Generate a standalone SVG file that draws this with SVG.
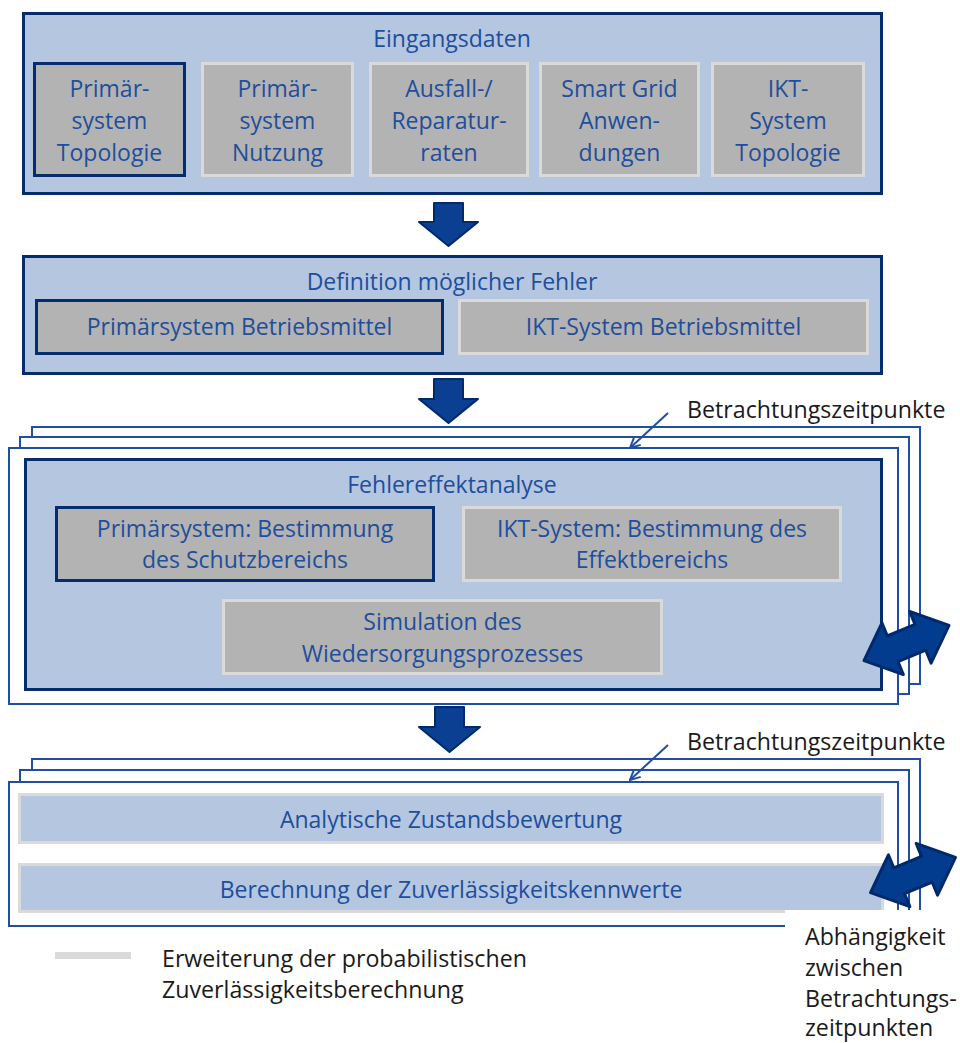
<svg xmlns="http://www.w3.org/2000/svg" width="960" height="1043" viewBox="0 0 960 1043">
<style>
.t{font-family:"Open Sans","Liberation Sans",sans-serif;font-size:23px;fill:#1e4e9c;text-anchor:middle}
.k{font-family:"Open Sans","Liberation Sans",sans-serif;font-size:23.2px;fill:#1a1a1a}
.panel{fill:#b4c6e0;stroke:#062c6b;stroke-width:3}
.g{fill:#b3b3b3;stroke:#dadada;stroke-width:3}
.gd{fill:#b3b3b3;stroke:#062c6b;stroke-width:3}
.bar{fill:#b4c6e0;stroke:#dadada;stroke-width:3}
.fr{fill:#fff;stroke:#1f4fa0;stroke-width:2}
.da{fill:#0a3f91;stroke:#002a6b;stroke-width:2;stroke-linejoin:round}
.dd{fill:#023c8f;stroke:#00296b;stroke-width:3;stroke-linejoin:round}
.pt{fill:none;stroke:#1f4fa0;stroke-width:2}
</style>
<defs>
<marker id="open" markerWidth="12" markerHeight="12" refX="11" refY="6" orient="auto" markerUnits="userSpaceOnUse">
<path d="M1,1 L11,6 L1,11" fill="none" stroke="#1f4fa0" stroke-width="2"/>
</marker>
</defs>
<rect width="960" height="1043" fill="#fff"/>

<g id="eingangsdaten">
<rect class="panel" x="23.5" y="13.5" width="858" height="180"/>
<text class="t" x="452" y="47">Eingangsdaten</text>
</g>
<g id="ps-topologie">
<rect class="gd" x="34.5" y="63.5" width="150" height="112"/>
<text class="t" x="109.5" y="97">Primär-</text><text class="t" x="109.5" y="129">system</text><text class="t" x="109.5" y="161">Topologie</text>
</g>
<g id="ps-nutzung">
<rect class="g" x="202.5" y="63.5" width="150" height="112"/>
<text class="t" x="277.5" y="97">Primär-</text><text class="t" x="277.5" y="129">system</text><text class="t" x="277.5" y="161">Nutzung</text>
</g>
<g id="ausfallraten">
<rect class="g" x="370.5" y="63.5" width="157" height="112"/>
<text class="t" x="449" y="97">Ausfall-/</text><text class="t" x="449" y="129">Reparatur-</text><text class="t" x="449" y="161">raten</text>
</g>
<g id="smartgrid">
<rect class="g" x="540.5" y="63.5" width="158" height="112"/>
<text class="t" x="619.5" y="97">Smart Grid</text><text class="t" x="619.5" y="129">Anwen-</text><text class="t" x="619.5" y="161">dungen</text>
</g>
<g id="ikt-topologie">
<rect class="g" x="712.5" y="63.5" width="151" height="112"/>
<text class="t" x="788" y="97">IKT-</text><text class="t" x="788" y="129">System</text><text class="t" x="788" y="161">Topologie</text>
</g>

<g id="definition">
<rect class="panel" x="23.5" y="256.5" width="858" height="117"/>
<text class="t" x="452" y="290">Definition möglicher Fehler</text>
</g>
<g id="ps-betriebsmittel">
<rect class="gd" x="36.5" y="300.5" width="406" height="53"/>
<text class="t" x="239.5" y="335">Primärsystem Betriebsmittel</text>
</g>
<g id="ikt-betriebsmittel">
<rect class="g" x="459.5" y="300.5" width="408" height="53"/>
<text class="t" x="663.5" y="335">IKT-System Betriebsmittel</text>
</g>

<g id="fehlereffektanalyse">
<rect class="fr" x="32" y="427" width="888" height="257"/>
<rect class="fr" x="20" y="437" width="889" height="257"/>
<rect class="fr" x="9" y="448" width="889" height="256"/>
<rect class="panel" x="25.5" y="459.5" width="856" height="230"/>
<text class="t" x="452" y="493">Fehlereffektanalyse</text>
</g>
<g id="schutzbereich">
<rect class="gd" x="56.5" y="507.5" width="377" height="73"/>
<text class="t" x="245" y="537">Primärsystem: Bestimmung</text><text class="t" x="245" y="568">des Schutzbereichs</text>
</g>
<g id="effektbereich">
<rect class="g" x="463.5" y="507.5" width="377" height="73"/>
<text class="t" x="652" y="537">IKT-System: Bestimmung des</text><text class="t" x="652" y="568">Effektbereichs</text>
</g>
<g id="wiederversorgung">
<rect class="g" x="223.5" y="600.5" width="438" height="73"/>
<text class="t" x="442.5" y="630">Simulation des</text><text class="t" x="442.5" y="662">Wiedersorgungsprozesses</text>
</g>

<g id="bewertung">
<rect class="fr" x="32" y="759" width="888" height="155"/>
<rect class="fr" x="20" y="770" width="889" height="150"/>
<rect class="fr" x="9" y="782" width="889" height="144"/>
</g>
<g id="zustandsbewertung">
<rect class="bar" x="19.5" y="794.5" width="863" height="48"/>
<text class="t" x="451" y="828">Analytische Zustandsbewertung</text>
</g>
<g id="kennwerte">
<rect class="bar" x="19.5" y="864.5" width="863" height="47"/>
<text class="t" x="451" y="898">Berechnung der Zuverlässigkeitskennwerte</text>
</g>

<g id="connectors">
<polygon class="da" points="434,203 463,203 463,222 478,222 448.5,246 419,222 434,222"/>
<polygon class="da" points="434,379 463,379 463,399 478,399 448.5,423 419,399 434,399"/>
<polygon class="da" points="435,707 464,707 464,727 480,727 449.5,752 419,727 435,727"/>
<line class="pt" x1="668" y1="413" x2="630" y2="448" marker-end="url(#open)"/>
<line class="pt" x1="668" y1="745" x2="630" y2="780" marker-end="url(#open)"/>
<polygon class="dd" transform="translate(906.5,643) rotate(-22.5)" points="-46,0 -15,-28 -15,-14 15,-14 15,-28 46,0 15,28 15,14 -15,14 -15,28"/>
</g>

<g id="label-abhaengigkeit">
<rect x="785" y="910" width="175" height="133" fill="#fff"/>
<text class="k" x="805" y="945">Abhängigkeit</text>
<text class="k" x="805" y="976">zwischen</text>
<text class="k" x="805" y="1007">Betrachtungs-</text>
<text class="k" x="805" y="1036">zeitpunkten</text>
</g>
<g id="connectors-2">
<polygon class="dd" transform="translate(913,875) rotate(-22.5)" points="-46,0 -15,-28 -15,-14 15,-14 15,-28 46,0 15,28 15,14 -15,14 -15,28"/>
</g>

<g id="labels">
<text class="k" x="687" y="418">Betrachtungszeitpunkte</text>
<text class="k" x="687" y="750">Betrachtungszeitpunkte</text>
</g>

<g id="legend">
<rect x="55" y="952" width="76" height="7" fill="#dadada"/>
<text class="k" x="162" y="967">Erweiterung der probabilistischen</text>
<text class="k" x="162" y="998">Zuverlässigkeitsberechnung</text>
</g>
</svg>
